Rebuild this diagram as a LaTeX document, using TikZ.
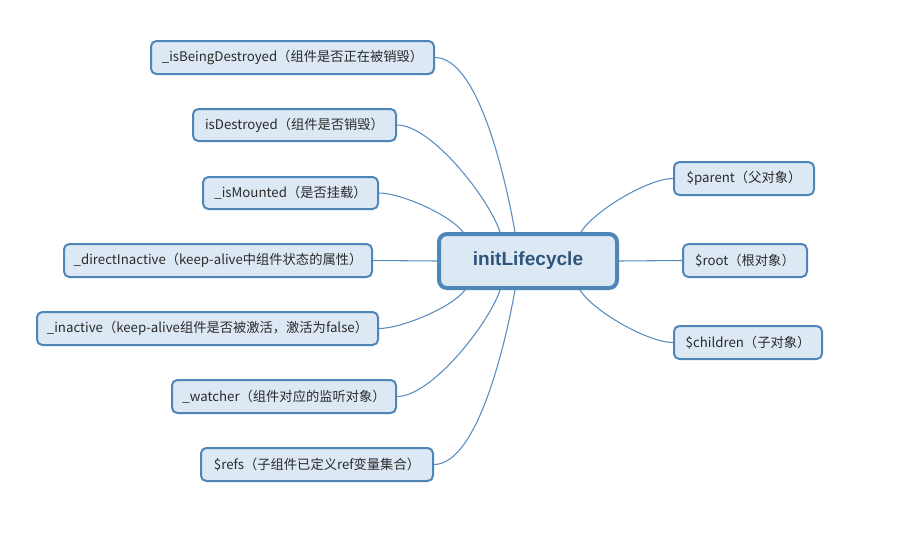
\documentclass[tikz,border=0pt]{standalone}
\usepackage{fontspec}
\setmainfont{Noto Sans CJK SC}
\newfontfamily\boldlat{Liberation Sans}
\usetikzlibrary{calc,backgrounds}
\definecolor{boxfill}{HTML}{DCE8F4}
\definecolor{boxline}{HTML}{4F86B8}
\definecolor{conn}{HTML}{5B8DBF}
\definecolor{txt}{HTML}{2B2B2B}
\definecolor{ctxt}{HTML}{30557D}
\begin{document}
\begin{tikzpicture}[x=0.75pt,y=0.75pt,
  leaf/.style={draw=boxline, fill=boxfill, line width=1.5pt, rounded corners=4pt,
    minimum height=24.75pt, inner sep=0pt, text=txt,
    font=\fontsize{9.95pt}{11pt}\selectfont},
  center/.style={draw=boxline, fill=boxfill, line width=3pt, rounded corners=6pt,
    minimum width=133.5pt, minimum height=40.5pt, inner sep=0pt, text=ctxt,
    font=\boldlat\bfseries\fontsize{14.3pt}{16pt}\selectfont},
  conn/.style={draw=conn, line width=0.8pt},
  curv/.style={conn, looseness=0.6}]
\useasboundingbox (0,0) rectangle (897,-544);

\node[center] (c) at (528,-261) {initLifecycle};

\node[leaf, minimum width=212.25pt] (l1) at (292.5,-57.5) {\_isBeingDestroyed（组件是否正在被销毁）};
\node[leaf, minimum width=152.25pt, minimum height=24pt] (l2) at (294.5,-125) {isDestroyed（组件是否销毁）};
\node[leaf, minimum width=131.25pt, minimum height=24pt] (l3) at (290.5,-193) {\_isMounted（是否挂载）};
\node[leaf, minimum width=231pt] (l4) at (218,-260.5) {\_directInactive（keep-alive中组件状态的属性）};
\node[leaf, minimum width=255.75pt] (l5) at (207.5,-328.5) {\_inactive（keep-alive组件是否被激活，激活为false）};
\node[leaf, minimum width=168pt] (l6) at (284,-396.5) {\_watcher（组件对应的监听对象）};
\node[leaf, minimum width=174pt] (l7) at (317,-464.5) {\$refs（子组件已定义ref变量集合）};

\node[leaf, minimum width=105pt] (r1) at (744,-178.5) {\$parent（父对象）};
\node[leaf, minimum width=93pt] (r2) at (745,-260.5) {\$root（根对象）};
\node[leaf, minimum width=111pt] (r3) at (748,-342.5) {\$children（子对象）};

\begin{scope}[on background layer]
\fill[white] (0,0) rectangle (897,-544);
\draw[curv] (l1.east) to[out=0,in=100] ($(c.north)+(-13,0)$);
\draw[curv] (l2.east) to[out=0,in=108] ($(c.north)+(-28,0)$);
\draw[curv] (l3.east) to[out=0,in=127] ($(c.north)+(-65,0)$);
\draw[conn] (l4.east) -- (c.west);
\draw[curv] (l5.east) to[out=0,in=233] ($(c.south)+(-63,0)$);
\draw[curv] (l6.east) to[out=0,in=252] ($(c.south)+(-28,0)$);
\draw[curv] (l7.east) to[out=0,in=260] ($(c.south)+(-13,0)$);
\draw[curv] (r1.west) to[out=180,in=58] ($(c.north)+(53,0)$);
\draw[conn] (c.east) -- (r2.west);
\draw[curv] (r3.west) to[out=180,in=302] ($(c.south)+(52,0)$);
\end{scope}
\end{tikzpicture}
\end{document}
